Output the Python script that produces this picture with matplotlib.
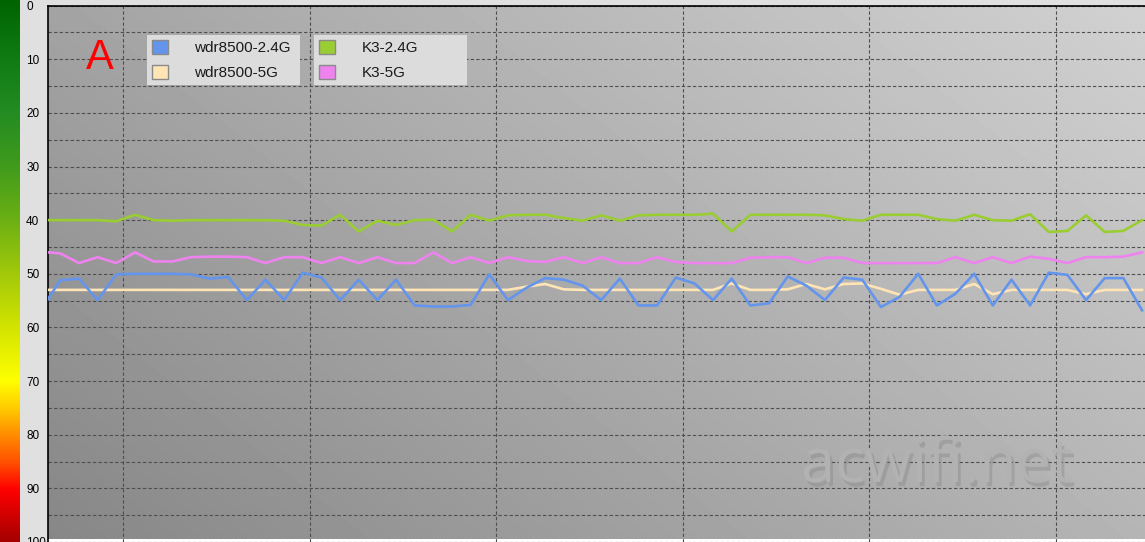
import numpy as np
import matplotlib.pyplot as plt
import matplotlib.patheffects as pe
from matplotlib.colors import LinearSegmentedColormap
from matplotlib.patches import Patch

# signal samples (dBm, shown as positive numbers), one per scan
samples = np.arange(60)

wdr_24 = [56.5, 51.2, 50.9, 54.9, 50.1, 50.0, 50.0, 50.0, 50.1, 50.9,
          50.6, 54.9, 51.1, 54.9, 49.8, 50.7, 54.9, 51.1, 54.9, 51.1,
          55.9, 56.1, 56.1, 55.8, 50.1, 54.9, 52.6, 50.8, 51.1, 52.2,
          54.9, 50.9, 55.9, 55.9, 50.7, 51.8, 54.9, 50.9, 55.9, 55.5,
          50.5, 52.2, 54.9, 50.7, 51.1, 56.2, 54.3, 50.0, 55.9, 53.7,
          50.0, 55.9, 51.1, 55.9, 49.8, 50.2, 54.9, 50.8, 50.8, 56.8]

wdr_5 = [53.0, 53.0, 53.0, 53.0, 53.0, 53.0, 53.0, 53.0, 53.0, 53.0,
         53.0, 53.0, 53.0, 53.0, 53.0, 53.0, 53.0, 53.0, 53.0, 53.0,
         53.0, 53.0, 53.0, 53.0, 53.0, 53.0, 52.4, 51.9, 52.9, 53.0,
         53.0, 53.0, 53.0, 53.0, 53.0, 53.0, 53.0, 51.8, 53.0, 53.0,
         52.9, 51.9, 52.9, 51.9, 51.8, 52.8, 53.9, 53.0, 53.0, 53.0,
         51.9, 53.8, 53.0, 53.0, 53.0, 53.0, 53.8, 53.0, 53.0, 53.0]

k3_24 = [40.0, 40.0, 40.0, 40.0, 40.2, 39.0, 40.0, 40.1, 40.0, 40.0,
         40.0, 40.0, 40.0, 40.1, 40.9, 41.0, 39.0, 42.1, 40.1, 40.9,
         40.0, 39.9, 42.1, 39.0, 40.1, 39.1, 39.0, 39.0, 39.6, 40.1,
         39.1, 40.1, 39.1, 39.0, 39.0, 39.0, 38.8, 42.1, 39.0, 39.0,
         39.0, 39.0, 39.1, 39.8, 40.1, 39.0, 39.0, 39.0, 39.8, 40.1,
         39.0, 40.0, 40.1, 38.9, 42.2, 42.0, 39.1, 42.2, 42.0, 40.0]

k3_5 = [45.9, 46.2, 48.0, 46.9, 48.0, 46.0, 47.7, 47.7, 46.9, 46.8,
        46.8, 46.9, 48.0, 46.9, 46.9, 48.0, 46.9, 48.0, 46.9, 48.0,
        48.0, 46.0, 48.0, 46.9, 48.0, 46.9, 47.6, 47.8, 46.9, 48.0,
        46.9, 48.0, 48.0, 46.9, 47.8, 48.0, 48.0, 48.0, 47.0, 46.9,
        46.9, 48.0, 47.0, 47.0, 48.0, 48.0, 48.0, 48.0, 48.0, 46.9,
        48.0, 46.9, 48.0, 46.8, 47.2, 48.0, 46.9, 46.9, 46.8, 46.0]

series_names = ['wdr8500-2.4G', 'wdr8500-5G', 'K3-2.4G', 'K3-5G']
series_colors = ['#6495ED', '#FFE4B5', '#9ACD32', '#EE82EE']

W, H = 1145, 542
fig = plt.figure(figsize=(W / 100, H / 100), dpi=100, facecolor='#e0e0e0')

# main plot area
ax = fig.add_axes([48 / W, 0, 1 - 48 / W, (H - 5.6) / H])
x_lo, x_hi = 0.34, 59.16
y_lo, y_hi = 99.5, 0
ax.set_xlim(x_lo, x_hi)
ax.set_ylim(y_lo, y_hi)

# grey diagonal gradient background
gx, gy = np.meshgrid(np.linspace(0, 1, 200), np.linspace(0, 1, 100))
shade = 0.64 + 0.18 * gx - 0.11 * gy
ax.imshow(shade, cmap='gray', vmin=0, vmax=1, extent=[x_lo, x_hi, y_lo, y_hi],
          origin='upper', aspect='auto', zorder=0, interpolation='bilinear')

ax.set_yticks(range(0, 101, 10))
ax.set_yticks(range(5, 100, 10), minor=True)
ax.set_xticks(np.arange(4.37, 59, 10))
ax.grid(True, which='both', color='#4e4e4e', linestyle=(0, (3, 2)), linewidth=0.8, zorder=1)
ax.tick_params(axis='both', which='both', length=0)
ax.tick_params(axis='x', labelbottom=False)
ax.tick_params(axis='y', pad=15.8, labelsize=8.5)
for lab in ax.get_yticklabels():
    lab.set_horizontalalignment('left')
    lab.set_fontfamily('Liberation Sans')
for side in ['right', 'bottom']:
    ax.spines[side].set_visible(False)
for side in ['left', 'top']:
    ax.spines[side].set_color('black')
    ax.spines[side].set_linewidth(1.2)

# lines (5G drawn first so 2.4G sits on top)
ax.plot(samples, wdr_5, color=series_colors[1], lw=1.9, zorder=3)
ax.plot(samples, wdr_24, color=series_colors[0], lw=1.9, zorder=4)
ax.plot(samples, k3_24, color=series_colors[2], lw=1.9, zorder=3)
ax.plot(samples, k3_5, color=series_colors[3], lw=1.9, zorder=3)

# signal strength colour bar on the far left
cb = fig.add_axes([0, 0, 20 / W, 1])
cb_cmap = LinearSegmentedColormap.from_list('sig', [
    (0.00, '#006400'), (0.10, '#0f7a12'), (0.20, '#228b22'), (0.30, '#3f9a1c'),
    (0.40, '#6aaf14'), (0.50, '#a0c80a'), (0.60, '#d2e400'), (0.70, '#ffff00'),
    (0.75, '#ffcc00'), (0.80, '#ff8c00'), (0.85, '#ff5000'), (0.90, '#ff0000'),
    (1.00, '#a00000')])
top_val = -5.6 / 5.39
cb.imshow(np.linspace(0, 1, 256).reshape(-1, 1), cmap=cb_cmap, aspect='auto',
          extent=[0, 1, 100, top_val], interpolation='bilinear')
cb.set_xlim(0, 1)
cb.set_ylim(y_lo, top_val)
cb.axis('off')

# panel letter
ax.text(100 / W, 1 - 58 / H, 'A', transform=fig.transFigure, color='#ff0000',
        fontsize=30, family='Liberation Sans', ha='center', va='center')

# watermark
ax.text(937 / W, 1 - 466 / H, 'acwifi.net', transform=fig.transFigure,
        color='#b2b2b2', fontsize=44, family='Open Sans', ha='center', va='center',
        zorder=2, path_effects=[pe.withSimplePatchShadow(offset=(2, -3), shadow_rgbFace='#808080', alpha=0.35)])

# two-column legend, each column its own grey box
handles = [Patch(facecolor=c, edgecolor='#8a8a8a', linewidth=1) for c in series_colors]
leg_boxes = [(147, [0, 1]), (314, [2, 3])]
for left, idx in leg_boxes:
    leg = ax.legend([handles[i] for i in idx], [series_names[i] for i in idx],
                    loc='upper left', bbox_to_anchor=(left / W, 1 - 35 / H, 153 / W, 0),
                    bbox_transform=fig.transFigure, mode='expand', borderaxespad=0,
                    prop={'family': 'Liberation Sans', 'size': 11},
                    handlelength=1.1, handleheight=1.1, handletextpad=1.7,
                    labelspacing=0.62, borderpad=0.3, frameon=True, fancybox=False,
                    facecolor='#dcdcdc', edgecolor='none', framealpha=1)
    for t in leg.get_texts():
        t.set_color('#1a1a1a')
    ax.add_artist(leg)

fig.savefig('out.png', dpi=100, facecolor=fig.get_facecolor())
